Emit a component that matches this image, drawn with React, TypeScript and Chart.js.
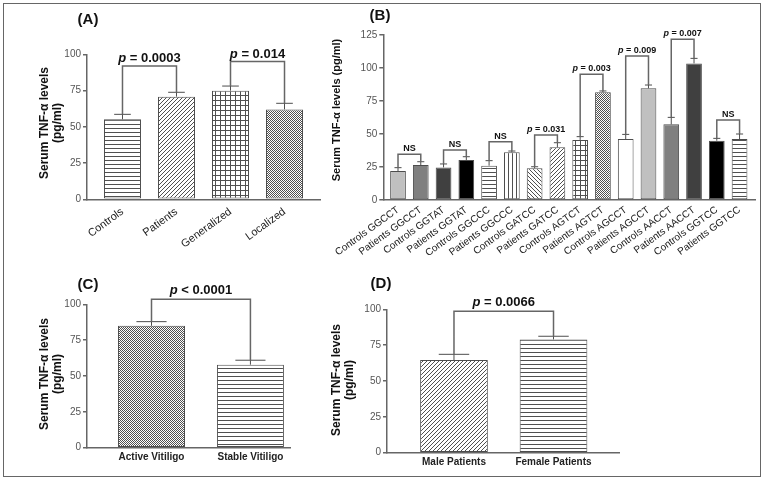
import React, { useEffect, useRef } from "react";
import { Chart, registerables } from "chart.js";
Chart.register(...registerables);

const CW = 764;
const CH = 479;
const FONT = "'Liberation Sans', Arial, sans-serif";
const AXIS = "#666666";
const INK = "#4d4d4d";

// ---------- Panel A ----------
const aCategories = ["Controls", "Patients", "Generalized", "Localized"];
const aValues = [55.2, 70.8, 74.9, 62];
const aErrors = [3.4, 3, 3.2, 4.2];
const aPairs = [[0, 1], [2, 3]];
const aBracketLevels = [92, 95];
const aPLabels = ["p = 0.0003", "p = 0.014"];
const aYTicks = [0, 25, 50, 75, 100];

// ---------- Panel B ----------
const bCategories = [
  "Controls GGCCT", "Patients GGCCT", "Controls GGTAT", "Patients GGTAT",
  "Controls GGCCC", "Patients GGCCC", "Controls GATCC", "Patients GATCC",
  "Controls AGTCT", "Patients AGTCT", "Controls AGCCT", "Patients AGCCT",
  "Controls AACCT", "Patients AACCT", "Controls GGTCC", "Patients GGTCC",
];
const bValues = [22, 26.5, 24.7, 30.3, 26, 36.1, 24, 39.9, 45.5, 81.6, 46.2, 84.6, 57.3, 103.5, 44.9, 46.2];
const bErrors = [2.5, 2.5, 2.6, 2.5, 3.8, 1.0, 1.2, 3.5, 2.5, 1.0, 3.5, 2.5, 5.3, 3.8, 1.8, 3.8];
const bPairs = [[0, 1], [2, 3], [4, 5], [6, 7], [8, 9], [10, 11], [12, 13], [14, 15]];
const bBracketLevels = [34.6, 37.9, 44.2, 49.2, 95.2, 109, 121.7, 60.6];
const bPLabels = ["NS", "NS", "NS", "p = 0.031", "p = 0.003", "p = 0.009", "p = 0.007", "NS"];
const bYTicks = [0, 25, 50, 75, 100, 125];

// ---------- Panel C ----------
const cCategories = ["Active Vitiligo", "Stable Vitiligo"];
const cValues = [85, 57.9];
const cErrors = [2.9, 3.1];
const cPairs = [[0, 1]];
const cBracketLevels = [103.5];
const cPLabels = ["p < 0.0001"];
const cYTicks = [0, 25, 50, 75, 100];

// ---------- Panel D ----------
const dCategories = ["Male Patients", "Female Patients"];
const dValues = [64.6, 79];
const dErrors = [4, 2.2];
const dPairs = [[0, 1]];
const dBracketLevels = [98.7];
const dPLabels = ["p = 0.0066"];
const dYTicks = [0, 25, 50, 75, 100];

// ---------- styles (fills) ----------
const aFills = ["hlines", "fwd", "grid", "checker"];
const bFills = [
  "#c0c0c0", "#808080", "#404040", "#000000",
  "hlines", "vlines", "back", "fwd",
  "grid", "checker", "#ffffff", "#c0c0c0",
  "#808080", "#404040", "#000000", "hlines",
];
const cFills = ["checker", "hlines"];
const dFills = ["fwd", "hlines"];

function makePattern(kind: string): any {
  if (kind.startsWith("#")) return kind;
  const c = document.createElement("canvas");
  let s = 4;
  if (kind === "grid") s = 5;
  if (kind === "checker") s = 2;
  c.width = s;
  c.height = s;
  const g = c.getContext("2d")!;
  g.fillStyle = "#ffffff";
  g.fillRect(0, 0, s, s);
  g.fillStyle = "#505050";
  if (kind === "hlines") g.fillRect(0, 0, s, 1);
  if (kind === "vlines") g.fillRect(0, 0, 1, s);
  if (kind === "fwd") for (let i = 0; i < s; i++) g.fillRect(s - 1 - i, i, 1, 1);
  if (kind === "back") for (let i = 0; i < s; i++) g.fillRect(i, i, 1, 1);
  if (kind === "grid") {
    g.fillRect(0, 0, s, 1);
    g.fillRect(0, 0, 1, s);
  }
  if (kind === "checker") {
    g.fillRect(0, 0, 1, 1);
    g.fillRect(1, 1, 1, 1);
  }
  return g.createPattern(c, "repeat");
}

type Panel = {
  categories: string[];
  values: number[];
  errors: number[];
  pairs: number[][];
  levels: number[];
  pLabels: string[];
  yTicks: number[];
  fills: string[];
  area: { l: number; r: number; t: number; b: number };
  xMin: number;
  xMaxPad: number;
  barPct: number;
  rot: number;
  xFont: { size: number; weight: string };
  xPad: number;
  xAxisH: number;
  pSize: number;
  pGap: number;
  titleLines: { text: string; x: number }[];
  titleY: number;
  titleSize: number;
  label: string;
  labelX: number;
  labelY: number;
};

const PANELS: Panel[] = [
  {
    categories: aCategories, values: aValues, errors: aErrors, pairs: aPairs,
    levels: aBracketLevels, pLabels: aPLabels, yTicks: aYTicks, fills: aFills,
    area: { l: 87, r: 320, t: 54.3, b: 199.3 }, xMin: -0.657, xMaxPad: 0.657, barPct: 0.685,
    rot: 36, xFont: { size: 11, weight: "normal" }, xPad: 6, xAxisH: 100,
    pSize: 13, pGap: 4,
    titleLines: [{ text: "Serum TNF-\u03b1 levels", x: 45 }, { text: "(pg/ml)", x: 58 }],
    titleY: 123, titleSize: 12, label: "(A)", labelX: 88, labelY: 20,
  },
  {
    categories: bCategories, values: bValues, errors: bErrors, pairs: bPairs,
    levels: bBracketLevels, pLabels: bPLabels, yTicks: bYTicks, fills: bFills,
    area: { l: 383.3, r: 755.5, t: 35, b: 200 }, xMin: -0.646, xMaxPad: 0.7, barPct: 0.69,
    rot: 36, xFont: { size: 10, weight: "normal" }, xPad: 4, xAxisH: 100,
    pSize: 9, pGap: 3,
    titleLines: [{ text: "Serum TNF-\u03b1 levels (pg/ml)", x: 337 }],
    titleY: 110, titleSize: 11, label: "(B)", labelX: 380, labelY: 16,
  },
  {
    categories: cCategories, values: cValues, errors: cErrors, pairs: cPairs,
    levels: cBracketLevels, pLabels: cPLabels, yTicks: cYTicks, fills: cFills,
    area: { l: 87, r: 290, t: 304.3, b: 447.7 }, xMin: -0.652, xMaxPad: 0.4, barPct: 0.677,
    rot: 0, xFont: { size: 10, weight: "bold" }, xPad: 4, xAxisH: 28,
    pSize: 13, pGap: 5,
    titleLines: [{ text: "Serum TNF-\u03b1 levels", x: 45 }, { text: "(pg/ml)", x: 58 }],
    titleY: 374, titleSize: 12, label: "(C)", labelX: 88, labelY: 285,
  },
  {
    categories: dCategories, values: dValues, errors: dErrors, pairs: dPairs,
    levels: dBracketLevels, pLabels: dPLabels, yTicks: dYTicks, fills: dFills,
    area: { l: 387, r: 619, t: 309.3, b: 452.7 }, xMin: -0.673, xMaxPad: 0.658, barPct: 0.68,
    rot: 0, xFont: { size: 10, weight: "bold" }, xPad: 3.5, xAxisH: 24,
    pSize: 13, pGap: 5,
    titleLines: [{ text: "Serum TNF-\u03b1 levels", x: 337 }, { text: "(pg/ml)", x: 350 }],
    titleY: 380, titleSize: 12, label: "(D)", labelX: 381, labelY: 284,
  },
];

function drawPText(ctx: CanvasRenderingContext2D, text: string, cx: number, baseY: number, size: number) {
  const bold = `bold ${size}px ${FONT}`;
  const ital = `italic bold ${size}px ${FONT}`;
  ctx.fillStyle = "#111111";
  ctx.textBaseline = "alphabetic";
  if (text.startsWith("p ")) {
    const rest = text.slice(1);
    ctx.font = ital;
    const w1 = ctx.measureText("p").width;
    ctx.font = bold;
    const w2 = ctx.measureText(rest).width;
    const x0 = cx - (w1 + w2) / 2;
    ctx.textAlign = "left";
    ctx.font = ital;
    ctx.fillText("p", x0, baseY);
    ctx.font = bold;
    ctx.fillText(rest, x0 + w1, baseY);
  } else {
    ctx.font = bold;
    ctx.textAlign = "center";
    ctx.fillText(text, cx, baseY);
  }
}

function annotations(p: Panel) {
  return {
    id: "annot",
    afterDraw(chart: any) {
      const ctx: CanvasRenderingContext2D = chart.ctx;
      const xs = chart.scales.x;
      const ys = chart.scales.y;
      const meta = chart.getDatasetMeta(0);
      ctx.save();
      ctx.strokeStyle = INK;
      ctx.lineWidth = 1;
      const errTop: number[] = [];
      p.values.forEach((v, i) => {
        const x = xs.getPixelForValue(i);
        const y0 = ys.getPixelForValue(v);
        const y1 = ys.getPixelForValue(v + p.errors[i]);
        errTop.push(y1);
        const half = (meta.data[i].width * 0.45) / 2;
        ctx.beginPath();
        ctx.moveTo(x, y0);
        ctx.lineTo(x, y1);
        ctx.moveTo(x - half, y1);
        ctx.lineTo(x + half, y1);
        ctx.stroke();
      });
      p.pairs.forEach((pr, k) => {
        const [i, j] = pr;
        const xi = xs.getPixelForValue(i);
        const xj = xs.getPixelForValue(j);
        const yb = ys.getPixelForValue(p.levels[k]);
        ctx.strokeStyle = AXIS;
        ctx.lineWidth = 1.5;
        ctx.beginPath();
        ctx.moveTo(xi, errTop[i]);
        ctx.lineTo(xi, yb);
        ctx.lineTo(xj, yb);
        ctx.lineTo(xj, errTop[j]);
        ctx.stroke();
        drawPText(ctx, p.pLabels[k], (xi + xj) / 2, yb - p.pGap, p.pSize);
      });
      ctx.fillStyle = "#111111";
      ctx.font = `bold ${p.titleSize}px ${FONT}`;
      ctx.textAlign = "center";
      ctx.textBaseline = "middle";
      p.titleLines.forEach((ln) => {
        ctx.save();
        ctx.translate(ln.x, p.titleY);
        ctx.rotate(-Math.PI / 2);
        ctx.fillText(ln.text, 0, 0);
        ctx.restore();
      });
      ctx.font = `bold 15px ${FONT}`;
      ctx.fillText(p.label, p.labelX, p.labelY);
      ctx.restore();
    },
  };
}

function buildConfig(p: Panel): any {
  const n = p.values.length;
  const yW = 40;
  return {
    type: "bar",
    data: {
      datasets: [
        {
          data: p.values.map((v, i) => ({ x: i, y: v })),
          backgroundColor: p.fills.map(makePattern),
          borderColor: INK,
          borderWidth: 1,
          borderSkipped: false,
          barPercentage: p.barPct,
          categoryPercentage: 1,
        },
      ],
    },
    options: {
      responsive: false,
      animation: false,
      events: [],
      layout: {
        padding: {
          left: p.area.l - yW,
          right: CW - p.area.r,
          top: p.area.t,
          bottom: CH - p.area.b - p.xAxisH,
        },
      },
      plugins: { legend: { display: false }, tooltip: { enabled: false }, title: { display: false } },
      scales: {
        x: {
          type: "linear",
          offset: false,
          min: p.xMin,
          max: n - 1 + p.xMaxPad,
          afterBuildTicks: (s: any) => {
            s.ticks = p.categories.map((_, i) => ({ value: i }));
          },
          afterFit: (s: any) => {
            s.height = p.xAxisH;
          },
          grid: { display: false, drawTicks: false, tickLength: 0 },
          border: { display: true, color: AXIS, width: 1.5 },
          ticks: {
            autoSkip: false,
            minRotation: p.rot,
            maxRotation: p.rot,
            padding: p.xPad,
            color: "#222222",
            font: { family: FONT, size: p.xFont.size, weight: p.xFont.weight },
            callback: (v: number) => p.categories[v] ?? "",
          },
        },
        y: {
          type: "linear",
          min: 0,
          max: p.yTicks[p.yTicks.length - 1],
          afterBuildTicks: (s: any) => {
            s.ticks = p.yTicks.map((v) => ({ value: v }));
          },
          afterFit: (s: any) => {
            s.width = yW;
          },
          grid: { drawOnChartArea: false, color: AXIS, lineWidth: 1.5, tickLength: 4 },
          border: { display: true, color: AXIS, width: 1.5 },
          ticks: { color: "#555555", padding: 2, font: { family: FONT, size: 10 } },
        },
      },
    },
    plugins: [annotations(p)],
  };
}

export default function App() {
  const r0 = useRef<HTMLCanvasElement>(null);
  const r1 = useRef<HTMLCanvasElement>(null);
  const r2 = useRef<HTMLCanvasElement>(null);
  const r3 = useRef<HTMLCanvasElement>(null);
  const refs = [r0, r1, r2, r3];
  useEffect(() => {
    const charts = PANELS.map((p, i) => new Chart(refs[i].current as HTMLCanvasElement, buildConfig(p)));
    return () => charts.forEach((c) => c.destroy());
  }, []);
  return (
    <div style={{ position: "fixed", left: 0, top: 0, width: CW, height: CH, background: "#ffffff", overflow: "hidden" }}>
      <div
        style={{
          position: "absolute", left: 3, top: 3, width: 758, height: 474,
          border: "1px solid #666666", boxSizing: "border-box",
        }}
      />
      {refs.map((r, i) => (
        <canvas key={i} ref={r} width={CW} height={CH} style={{ position: "absolute", left: 0, top: 0 }} />
      ))}
    </div>
  );
}
